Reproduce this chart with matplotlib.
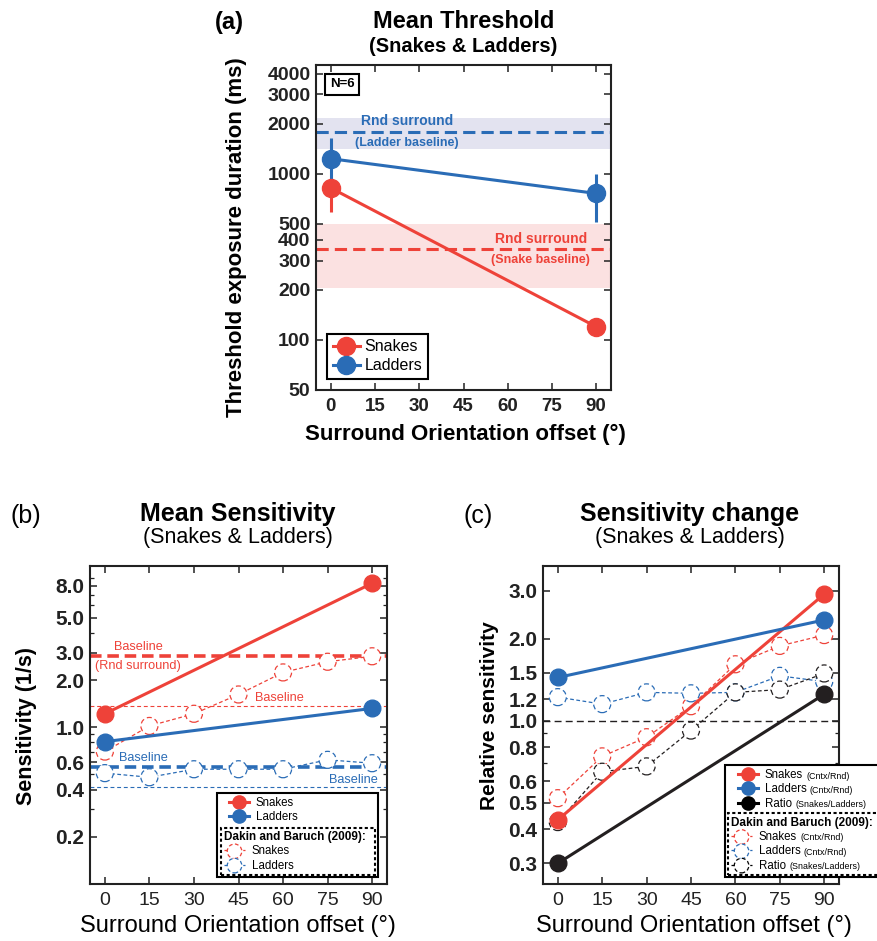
import matplotlib.pyplot as plt
import matplotlib.ticker as mticker
from matplotlib.lines import Line2D
from matplotlib.patches import Rectangle

plt.rcParams['font.family'] = ['Liberation Sans', 'DejaVu Sans']

RED = '#EE4239'
BLUE = '#2A6CB6'
DARK = '#231F20'

offsets = [0, 15, 30, 45, 60, 75, 90]
ends = [0, 90]

# (a) mean threshold (ms)
thr_snakes = [820, 120]
thr_snakes_lo = [590, 112]
thr_snakes_hi = [900, 128]
thr_ladders = [1230, 760]
thr_ladders_lo = [830, 515]
thr_ladders_hi = [1630, 1000]
rnd_snake = 352
rnd_snake_band = [206, 500]
rnd_ladder = 1780
rnd_ladder_band = [1406, 2160]
a_yticks = [50, 100, 200, 300, 400, 500, 1000, 2000, 3000, 4000]
a_ylabels = ['50', '100', '200', '300', '400', '500', '1000', '2000', '3000', '4000']

# (b) mean sensitivity (1/s)
sens_snakes = [1.22, 8.3]
sens_ladders = [0.81, 1.32]
base_snake_rnd = 2.85
base_snake_dakin = 1.375
base_ladder_rnd = 0.56
base_ladder_dakin = 0.418
dakin_snakes = [0.70, 1.02, 1.22, 1.62, 2.24, 2.62, 2.84]
dakin_ladders = [0.51, 0.48, 0.54, 0.54, 0.54, 0.62, 0.59]
b_yticks = [0.2, 0.4, 0.6, 1.0, 2.0, 3.0, 5.0, 8.0]
b_ylabels = ['0.2', '0.4', '0.6', '1.0', '2.0', '3.0', '5.0', '8.0']

# (c) relative sensitivity
rel_snakes = [0.433, 2.91]
rel_ladders = [1.44, 2.34]
rel_ratio = [0.30, 1.25]
dakin_rel_snakes = [0.52, 0.74, 0.87, 1.13, 1.61, 1.88, 2.06]
dakin_rel_ladders = [1.22, 1.15, 1.27, 1.26, 1.27, 1.46, 1.39]
dakin_rel_ratio = [0.425, 0.65, 0.68, 0.92, 1.27, 1.30, 1.49]
c_yticks = [0.3, 0.4, 0.5, 0.6, 0.8, 1.0, 1.2, 1.5, 2.0, 3.0]
c_ylabels = ['0.3', '0.4', '0.5', '0.6', '0.8', '1.0', '1.2', '1.5', '2.0', '3.0']

W, H = 877, 941
fig = plt.figure(figsize=(W / 100, H / 100), dpi=100)


def rect(l, t, r, b):
    return [l / W, 1 - b / H, (r - l) / W, (b - t) / H]


def ftext(x, y, s, **kw):
    fig.text(x / W, 1 - y / H, s, ha='center', va='center', **kw)


def style(ax, yticks, ylabels, ylim, minor, xsize, xweight, ysize):
    ax.set_yscale('log')
    ax.set_xlim(-5, 95)
    ax.set_ylim(*ylim)
    ax.set_xticks(offsets)
    ax.set_xticklabels([str(o) for o in offsets], fontsize=xsize, fontweight=xweight)
    ax.set_yticks(yticks)
    ax.set_yticklabels(ylabels, fontsize=ysize, fontweight='bold')
    if minor:
        ax.yaxis.set_minor_locator(mticker.LogLocator(subs=list(range(2, 10))))
    else:
        ax.yaxis.set_minor_locator(mticker.NullLocator())
    ax.yaxis.set_minor_formatter(mticker.NullFormatter())
    ax.tick_params(which='both', direction='in', top=True, right=True, colors='#222')
    ax.tick_params(which='major', length=5, width=1.1)
    ax.tick_params(which='minor', length=3, width=0.9)
    ax.tick_params(axis='x', pad=6)
    ax.tick_params(axis='y', pad=4)
    for s in ax.spines.values():
        s.set_linewidth(1.5)
        s.set_color('#222')


def dakin(ax, y, color):
    line, = ax.plot(offsets, y, color=color, lw=0.9, ls=(0, (3, 2)), zorder=2)
    ax.scatter(offsets, y, s=150, facecolors='white', edgecolors=color,
               linewidths=0.9, linestyles=(0, (4, 2.5)), zorder=3)
    return line


def dakin_handle(ax, color):
    ln = Line2D([], [], color=color, lw=0.9, ls=(0, (3, 2)))
    sc = ax.scatter([], [], s=110, facecolors='white', edgecolors=color,
                    linewidths=0.9, linestyles=(0, (3, 2)))
    return (ln, sc)


def add_suffix(ax, leg, suffixes):
    for t, suf in zip(leg.get_texts(), suffixes):
        ax.annotate(suf, xy=(1, 0.05), xycoords=t, xytext=(2.5, 0),
                    textcoords='offset points', ha='left', va='bottom',
                    fontsize=6.4, zorder=7)


# ---------------- (a) ----------------
ax_a = fig.add_axes(rect(316, 65, 611, 390))
style(ax_a, a_yticks, a_ylabels, (50, 4500), False, 13.5, 'bold', 14)
ax_a.axhspan(*rnd_ladder_band, color='#E3E3F0', lw=0, zorder=0)
ax_a.axhspan(*rnd_snake_band, color='#FBE1E1', lw=0, zorder=0)
ax_a.axhline(rnd_ladder, color=BLUE, lw=2.2, dashes=(4, 2), zorder=1)
ax_a.axhline(rnd_snake, color=RED, lw=2.2, dashes=(4, 2), zorder=1)
ax_a.errorbar(ends, thr_snakes,
              yerr=[[m - l for m, l in zip(thr_snakes, thr_snakes_lo)],
                    [h - m for m, h in zip(thr_snakes, thr_snakes_hi)]],
              fmt='-o', color=RED, lw=2.2, ms=13, elinewidth=2.2, capsize=0, zorder=3)
ax_a.errorbar(ends, thr_ladders,
              yerr=[[m - l for m, l in zip(thr_ladders, thr_ladders_lo)],
                    [h - m for m, h in zip(thr_ladders, thr_ladders_hi)]],
              fmt='-o', color=BLUE, lw=2.2, ms=13, elinewidth=2.2, capsize=0, zorder=3)
ax_a.text(25.8, 2066, 'Rnd surround', color=BLUE, fontsize=10, fontweight='bold',
          ha='center', va='center')
ax_a.text(25.8, 1537, '(Ladder baseline)', color=BLUE, fontsize=9, fontweight='bold',
          ha='center', va='center')
ax_a.text(71.2, 406, 'Rnd surround', color=RED, fontsize=10, fontweight='bold',
          ha='center', va='center')
ax_a.text(71.2, 303, '(Snake baseline)', color=RED, fontsize=9, fontweight='bold',
          ha='center', va='center')
ax_a.text(0.088, 0.94, 'N=6', transform=ax_a.transAxes, ha='center', va='center',
          fontsize=9.5, fontweight='bold',
          bbox=dict(boxstyle='square,pad=0.35', fc='white', ec='k', lw=1.5))
leg_a = ax_a.legend(handles=[Line2D([], [], color=RED, lw=2.2, marker='o', ms=13),
                             Line2D([], [], color=BLUE, lw=2.2, marker='o', ms=13)],
                    labels=['Snakes', 'Ladders'], loc='lower left',
                    bbox_to_anchor=(0.037, 0.034), borderaxespad=0, fancybox=False,
                    edgecolor='k', framealpha=1, fontsize=11.5, handlelength=1.7,
                    handletextpad=0.3, borderpad=0.35, labelspacing=0.25)
leg_a.get_frame().set_linewidth(1.5)
ax_a.set_ylabel('Threshold exposure duration (ms)', fontsize=16, fontweight='bold')
ax_a.yaxis.set_label_coords(-0.233, 0.47)
ax_a.set_xlabel('Surround Orientation offset (°)', fontsize=16, fontweight='bold')
ax_a.xaxis.set_label_coords(0.507, -0.105)
ftext(229, 22, '(a)', fontsize=17, fontweight='bold')
ftext(464, 21, 'Mean Threshold', fontsize=17, fontweight='bold')
ftext(463, 47, '(Snakes & Ladders)', fontsize=14.5, fontweight='bold')

# ---------------- (b) ----------------
ax_b = fig.add_axes(rect(90, 566, 387, 884))
style(ax_b, b_yticks, b_ylabels, (0.1, 10.7), True, 14, 'normal', 15)
ax_b.axhline(base_snake_rnd, color=RED, lw=2.6, dashes=(3.2, 1.6), zorder=1)
ax_b.axhline(base_snake_dakin, color=RED, lw=0.8, dashes=(3.5, 2.5), zorder=1)
ax_b.axhline(base_ladder_rnd, color=BLUE, lw=2.6, dashes=(3.2, 1.6), zorder=1)
ax_b.axhline(base_ladder_dakin, color=BLUE, lw=0.8, dashes=(3.5, 2.5), zorder=1)
dakin(ax_b, dakin_snakes, RED)
dakin(ax_b, dakin_ladders, BLUE)
ax_b.plot(ends, sens_snakes, '-o', color=RED, lw=2.2, ms=12, zorder=4)
ax_b.plot(ends, sens_ladders, '-o', color=BLUE, lw=2.2, ms=12, zorder=4)
ax_b.text(11.3, 3.27, 'Baseline', color=RED, fontsize=9.2, ha='center', va='center')
ax_b.text(11.2, 2.45, '(Rnd surround)', color=RED, fontsize=9.2, ha='center', va='center')
ax_b.text(58.8, 1.546, 'Baseline', color=RED, fontsize=9.2, ha='center', va='center')
ax_b.text(13.0, 0.641, 'Baseline', color=BLUE, fontsize=9.2, ha='center', va='center')
ax_b.text(83.7, 0.459, 'Baseline', color=BLUE, fontsize=9.2, ha='center', va='center')

ax_b.add_patch(Rectangle((0.428, 0.022), 0.542, 0.264, transform=ax_b.transAxes,
                         fc='white', ec='k', lw=1.5, zorder=4.5, clip_on=False))
leg_b1 = ax_b.legend(handles=[Line2D([], [], color=RED, lw=2.2, marker='o', ms=9.5),
                              Line2D([], [], color=BLUE, lw=2.2, marker='o', ms=9.5)],
                     labels=['Snakes', 'Ladders'], loc='upper left',
                     bbox_to_anchor=(0.455, 0.284), frameon=False, fontsize=8.3,
                     handlelength=1.75, handletextpad=0.6, labelspacing=0.2,
                     borderaxespad=0, borderpad=0.3)
ax_b.add_artist(leg_b1)
leg_b2 = ax_b.legend(handles=[dakin_handle(ax_b, RED), dakin_handle(ax_b, BLUE)],
                     labels=['Snakes', 'Ladders'], loc='lower left',
                     bbox_to_anchor=(0.441, 0.028, 0.519, 0.2), mode='expand',
                     title='Dakin and Baruch (2009):',
                     title_fontproperties={'weight': 'bold', 'size': 8.5},
                     alignment='left', fancybox=False, edgecolor='k', framealpha=1,
                     fontsize=8.3, handlelength=1.75, handletextpad=0.6,
                     labelspacing=0.2, borderaxespad=0, borderpad=0.3)
leg_b2.get_frame().set_linestyle((0, (1.5, 1.2)))
leg_b2.get_frame().set_linewidth(1.5)
ax_b.set_ylabel('Sensitivity (1/s)', fontsize=15.5, fontweight='bold')
ax_b.yaxis.set_label_coords(-0.178, 0.497)
ax_b.set_xlabel('Surround Orientation offset (°)', fontsize=17)
ax_b.xaxis.set_label_coords(0.498, -0.097)
ftext(26, 516, '(b)', fontsize=18)
ftext(238, 514, 'Mean Sensitivity', fontsize=18, fontweight='bold')
ftext(238, 537, '(Snakes & Ladders)', fontsize=15.5)

# ---------------- (c) ----------------
ax_c = fig.add_axes(rect(543, 566, 839, 884))
style(ax_c, c_yticks, c_ylabels, (0.252, 3.69), True, 14, 'normal', 15)
ax_c.axhline(1.0, color=DARK, lw=1.0, dashes=(5, 3), zorder=1)
dakin(ax_c, dakin_rel_snakes, RED)
dakin(ax_c, dakin_rel_ladders, BLUE)
dakin(ax_c, dakin_rel_ratio, DARK)
ax_c.plot(ends, rel_snakes, '-o', color=RED, lw=2.2, ms=12, zorder=4)
ax_c.plot(ends, rel_ladders, '-o', color=BLUE, lw=2.2, ms=12, zorder=4)
ax_c.plot(ends, rel_ratio, '-o', color=DARK, lw=2.2, ms=12, zorder=4)

ax_c.add_patch(Rectangle((0.615, 0.022), 0.6, 0.352, transform=ax_c.transAxes,
                         fc='white', ec='k', lw=1.5, zorder=4.5, clip_on=False))
leg_c1 = ax_c.legend(handles=[Line2D([], [], color=RED, lw=2.2, marker='o', ms=9.5),
                              Line2D([], [], color=BLUE, lw=2.2, marker='o', ms=9.5),
                              Line2D([], [], color='k', lw=2.2, marker='o', ms=9.5)],
                     labels=['Snakes', 'Ladders', 'Ratio'], loc='upper left',
                     bbox_to_anchor=(0.646, 0.372), frameon=False, fontsize=8.3,
                     handlelength=1.75, handletextpad=0.6, labelspacing=0.2,
                     borderaxespad=0, borderpad=0.3)
ax_c.add_artist(leg_c1)
leg_c2 = ax_c.legend(handles=[dakin_handle(ax_c, RED), dakin_handle(ax_c, BLUE),
                              dakin_handle(ax_c, 'k')],
                     labels=['Snakes', 'Ladders', 'Ratio'], loc='lower left',
                     bbox_to_anchor=(0.625, 0.028, 0.6, 0.25), mode='expand',
                     title='Dakin and Baruch (2009):',
                     title_fontproperties={'weight': 'bold', 'size': 8.5},
                     alignment='left', fancybox=False, edgecolor='k', framealpha=1,
                     fontsize=8.3, handlelength=1.75, handletextpad=0.6,
                     labelspacing=0.2, borderaxespad=0, borderpad=0.3)
leg_c2.get_frame().set_linestyle((0, (1.5, 1.2)))
leg_c2.get_frame().set_linewidth(1.5)
leg_c2.set_clip_on(False)
suffixes = ['(Cntx/Rnd)', '(Cntx/Rnd)', '(Snakes/Ladders)']
add_suffix(ax_c, leg_c1, suffixes)
add_suffix(ax_c, leg_c2, suffixes)
ax_c.set_ylabel('Relative sensitivity', fontsize=15, fontweight='bold')
ax_c.yaxis.set_label_coords(-0.148, 0.53)
ax_c.set_xlabel('Surround Orientation offset (°)', fontsize=17)
ax_c.xaxis.set_label_coords(0.51, -0.097)
ftext(478, 516, '(c)', fontsize=18)
ftext(690, 514, 'Sensitivity change', fontsize=18, fontweight='bold')
ftext(690, 537, '(Snakes & Ladders)', fontsize=15.5)

fig.savefig('out.png', dpi=100)
